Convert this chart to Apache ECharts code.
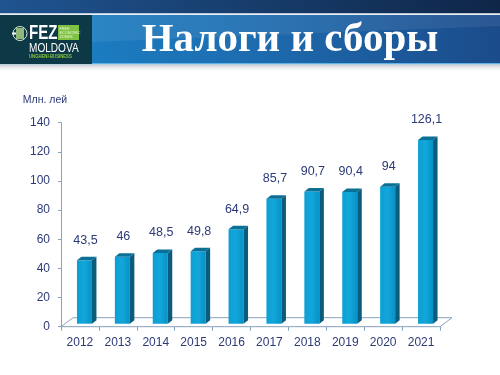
<!DOCTYPE html>
<html>
<head>
<meta charset="utf-8">
<style>
html,body{margin:0;padding:0;background:#fff;}
#main{width:500px;height:375px;}
</style>
<script src="https://cdn.jsdelivr.net/npm/echarts@6/dist/echarts.min.js"></script>
</head>
<body>
<div id="main"></div>
<script>
const years = ['2012','2013','2014','2015','2016','2017','2018','2019','2020','2021'];
const values = [43.5, 46, 48.5, 49.8, 64.9, 85.7, 90.7, 90.4, 94, 126.1];
const valueLabels = ['43,5','46','48,5','49,8','64,9','85,7','90,7','90,4','94','126,1'];
const yTicks = [0, 20, 40, 60, 80, 100, 120, 140];

const chart = echarts.init(document.getElementById('main'), null, {renderer:'canvas'});
const textColor = '#2c3a78';
const axisColor = '#8aa3bd';
const FONT = '"Liberation Sans", Arial, sans-serif';

const FW = 15, DX = 4.5, DY = -3.5, SH = -3, OFF = -3;

function renderBar(params, api) {
  const top = api.coord([api.value(0), api.value(1)]);
  const base = api.coord([api.value(0), 0]);
  const x0 = top[0] + OFF;
  const yt = top[1] + SH;
  const yb = base[1] + SH;
  return {
    type: 'group',
    children: [
      {type:'rect', shape:{x:x0, y:yt, width:FW, height:yb-yt},
       style:{fill:new echarts.graphic.LinearGradient(0,0,1,0,[{offset:0,color:'#0b9fd3'},{offset:0.5,color:'#12a6da'},{offset:1,color:'#0891c4'}])}},
      {type:'polygon', shape:{points:[[x0+FW,yt],[x0+FW+DX,yt+DY],[x0+FW+DX,yb+DY],[x0+FW,yb]]},
       style:{fill:'#0a5b7c'}},
      {type:'polygon', shape:{points:[[x0,yt],[x0+DX,yt+DY],[x0+FW+DX,yt+DY],[x0+FW,yt]]},
       style:{fill:'#0b6f96'}},
      {type:'text', style:{text:valueLabels[params.dataIndex], x:x0+FW/2+1, y:yt-20,
        fill:textColor, font:'12.5px ' + FONT, align:'center', verticalAlign:'middle'}}
    ]
  };
}

function renderFloor(params, api) {
  const cs = params.coordSys;
  const x1 = cs.x, x2 = cs.x + cs.width, y = cs.y + cs.height;
  const ddx = 12, ddy = -9;
  return {
    type:'polygon',
    shape:{points:[[x1,y],[x2,y],[x2+ddx,y+ddy],[x1+ddx,y+ddy]]},
    style:{fill:'#ffffff', stroke:axisColor, lineWidth:1}
  };
}

const option = {
  animation:false,
  grid:{left:61, right:60, top:122.7, bottom:48.3},
  xAxis:{
    type:'category', data:years,
    axisLine:{lineStyle:{color:axisColor}},
    axisTick:{show:true, length:4, lineStyle:{color:axisColor}},
    axisLabel:{color:textColor, fontSize:12, fontFamily:FONT, margin:10}
  },
  yAxis:{
    type:'value', min:0, max:140, interval:20,
    axisLine:{show:true, lineStyle:{color:axisColor}},
    axisTick:{show:true, length:3, lineStyle:{color:axisColor}},
    splitLine:{show:false},
    axisLabel:{color:textColor, fontSize:12, fontFamily:FONT, margin:11,
      formatter:function(v){return yTicks.indexOf(v)>=0 ? String(v) : '';}}
  },
  series:[
    {type:'custom', renderItem:renderFloor, data:[[0,0]], z:1, silent:true},
    {type:'custom', renderItem:renderBar, data:years.map((y,i)=>[i, values[i]]), z:3,
     encode:{x:0, y:1}}
  ],
  graphic:[
    {type:'text', z:5, style:{text:'Млн. лей', x:45, y:100, fill:textColor, font:'10.5px ' + FONT, align:'center', verticalAlign:'middle'}},
    {type:'rect', shape:{x:0,y:0,width:500,height:13.5}, z:10,
     style:{fill:new echarts.graphic.LinearGradient(0,0,1,0,[{offset:0,color:'#1f5490'},{offset:1,color:'#0f2648'}])}},
    {type:'rect', shape:{x:0,y:13.5,width:500,height:1.5}, z:10, style:{fill:'#e8eef5'}},
    {type:'rect', shape:{x:0,y:15,width:500,height:49}, z:10,
     style:{fill:new echarts.graphic.LinearGradient(0,0,1,0,[{offset:0,color:'#1a86c9'},{offset:0.5,color:'#1d6cb0'},{offset:1,color:'#1b4b8a'}])}},
    {type:'polygon', shape:{points:[[92,15],[500,15],[500,26],[92,42]]}, z:10,
     style:{fill:'rgba(255,255,255,0.07)'}},
    {type:'rect', shape:{x:0,y:63,width:500,height:1.5}, z:10, style:{fill:'#5fb2e3'}},
    {type:'rect', shape:{x:0,y:64.5,width:500,height:8}, z:10,
     style:{fill:new echarts.graphic.LinearGradient(0,0,0,1,[{offset:0,color:'#c4c8cc'},{offset:1,color:'rgba(255,255,255,0)'}])}},
    {type:'rect', shape:{x:0,y:15,width:92,height:49}, z:11, style:{fill:'#0d3947'}},
    // globe icon
    {type:'circle', shape:{cx:20,cy:33.5,r:7}, z:12, style:{fill:'none', stroke:'#d8e8d0', lineWidth:1}},
    {type:'rect', shape:{x:16,y:28,width:8,height:11}, z:12, style:{fill:'#8fb87a'}},
    {type:'rect', shape:{x:12,y:32.5,width:4,height:2}, z:12, style:{fill:'#ffffff'}},
    {type:'text', z:12, x:29, y:33.5, scaleX:0.72, style:{text:'FEZ', x:0, y:0, fill:'#ffffff', font:'bold 21px ' + FONT, verticalAlign:'middle'}},
    {type:'rect', shape:{x:58,y:25,width:21,height:15}, z:12, style:{fill:'#7fc241'}},
    {type:'text', z:13, style:{text:'FREE\nECONOMIC\nZONES', x:59.5, y:26.5, fill:'#eaf6dc', font:'3.8px ' + FONT, lineHeight:4.3, verticalAlign:'top'}},
    {type:'text', z:12, x:29, y:48.5, scaleX:0.84, style:{text:'MOLDOVA', x:0, y:0, fill:'#ffffff', font:'12px ' + FONT, verticalAlign:'middle'}},
    {type:'text', z:12, x:29, y:57, scaleX:0.82, style:{text:'UNGHENI-BUSINESS', x:0, y:0, fill:'#8cc63f', font:'bold 5.2px ' + FONT, verticalAlign:'middle'}},
    // title
    {type:'text', z:12, style:{text:'Налоги и сборы', x:290, y:40.5, fill:'#ffffff',
      font:'bold 41px "Liberation Serif", "DejaVu Serif", serif', align:'center', verticalAlign:'middle',
      shadowColor:'rgba(0,0,0,0.35)', shadowBlur:2, shadowOffsetX:1, shadowOffsetY:1}}
  ]
};
chart.setOption(option);
</script>
</body>
</html>
